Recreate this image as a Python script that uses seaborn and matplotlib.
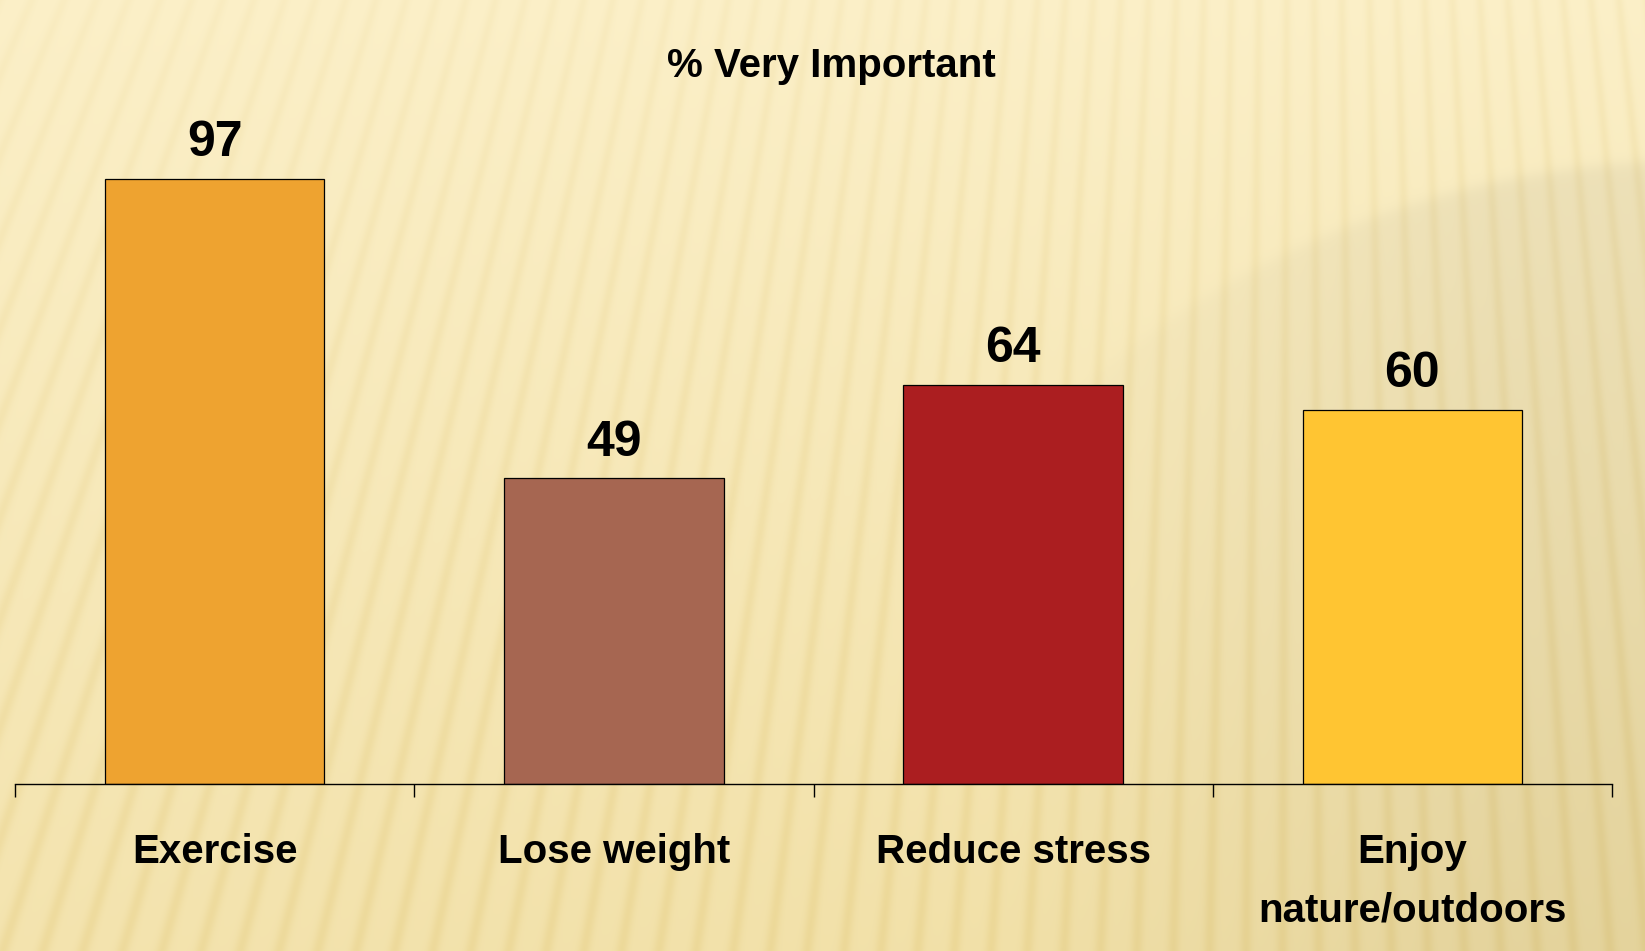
import numpy as np
import pandas as pd
import matplotlib
matplotlib.use("Agg")
import matplotlib.pyplot as plt
import seaborn as sns

# Survey results
categories = ["Exercise", "Lose weight", "Reduce stress", "Enjoy\nnature/outdoors"]
values = [97, 49, 64, 60]
bar_colors = ["#EEA330", "#A66651", "#AB1E20", "#FFC532"]
title = "% Very Important"

W, H, DPI = 1645, 951, 100

sns.set_theme(style="white")
plt.rcParams["font.family"] = ["Liberation Sans", "DejaVu Sans"]
plt.rcParams["text.color"] = "black"
plt.rcParams["xtick.color"] = "black"
plt.rcParams["xtick.labelcolor"] = "black"

fig = plt.figure(figsize=(W / DPI, H / DPI), dpi=DPI)

# ---- striped cream background ----
yy, xx = np.mgrid[0:H, 0:W].astype(float)
fx, fy = 1300.0, -3000.0
ang = np.arctan2(xx - fx, yy - fy)
period = 0.0092
phase = (ang / period) % 1.0
stripe = np.exp(-((phase - 0.5) ** 2) / (2 * 0.12 ** 2))
# stripes grow stronger toward the bottom / right
strength = 0.2 + 0.55 * (yy / H) + 0.15 * (xx / W)
light = np.array([253, 242, 205]) / 255.0
dark = np.array([240, 222, 163]) / 255.0
base_t = np.clip(0.12 + 0.6 * (yy / H) + 0.25 * (xx / W) * (yy / H), 0, 1)
img = light[None, None, :] * (1 - base_t[..., None]) + dark[None, None, :] * base_t[..., None]
stripe_col = np.array([226, 200, 120]) / 255.0
s = (0.42 * stripe * strength)[..., None]
img = img * (1 - s) + stripe_col[None, None, :] * s
# soft arc shadow upper right
e = ((xx - 1700) / 900.0) ** 2 + ((yy - 990) / 830.0) ** 2
shade = 1.0 / (1.0 + np.exp((e - 1.0) / 0.01))
shade *= np.clip((xx - 1000) / 500.0, 0, 1)
img = img * (1 - 0.05 * shade[..., None])
bg = fig.add_axes([0, 0, 1, 1])
bg.imshow(np.clip(img, 0, 1), aspect="auto", extent=[0, W, H, 0], interpolation="bilinear")
bg.set_axis_off()

# ---- bar chart ----
ax = fig.add_axes([15 / W, 1 - 784 / H, (1612 - 15) / W, (784 - 160) / H])
ax.patch.set_alpha(0)
df = pd.DataFrame({"category": categories, "value": values})
sns.barplot(data=df, x="category", y="value", hue="category", palette=bar_colors,
            legend=False, width=0.55, edgecolor="black", linewidth=0.9,
            saturation=1, ax=ax)
ax.set_xlim(-0.5, 3.5)
ax.set_ylim(0, 100)
ax.set_xlabel("")
ax.set_ylabel("")
ax.set_yticks([])
for side in ["left", "right", "top"]:
    ax.spines[side].set_visible(False)
ax.spines["bottom"].set_color("black")
ax.spines["bottom"].set_linewidth(1.0)

ax.set_xticks(np.arange(-0.5, 4.0, 1.0), minor=True)
ax.tick_params(axis="x", which="minor", direction="out", length=9.5, width=1.0,
               color="black", bottom=True)
ax.tick_params(axis="x", which="major", length=0, pad=35)
for lbl in ax.get_xticklabels():
    lbl.set_fontsize(29)
    lbl.set_fontweight("bold")
    lbl.set_color("black")
    lbl.set_linespacing(1.7)

for cont in ax.containers:
    ax.bar_label(cont, fmt="%d", padding=9, fontsize=36, fontweight="bold", color="black")

fig.text(831 / W, 1 - 66 / H, title, ha="center", va="center",
         fontsize=29, fontweight="bold", color="black")

fig.savefig("out.png", dpi=DPI)
